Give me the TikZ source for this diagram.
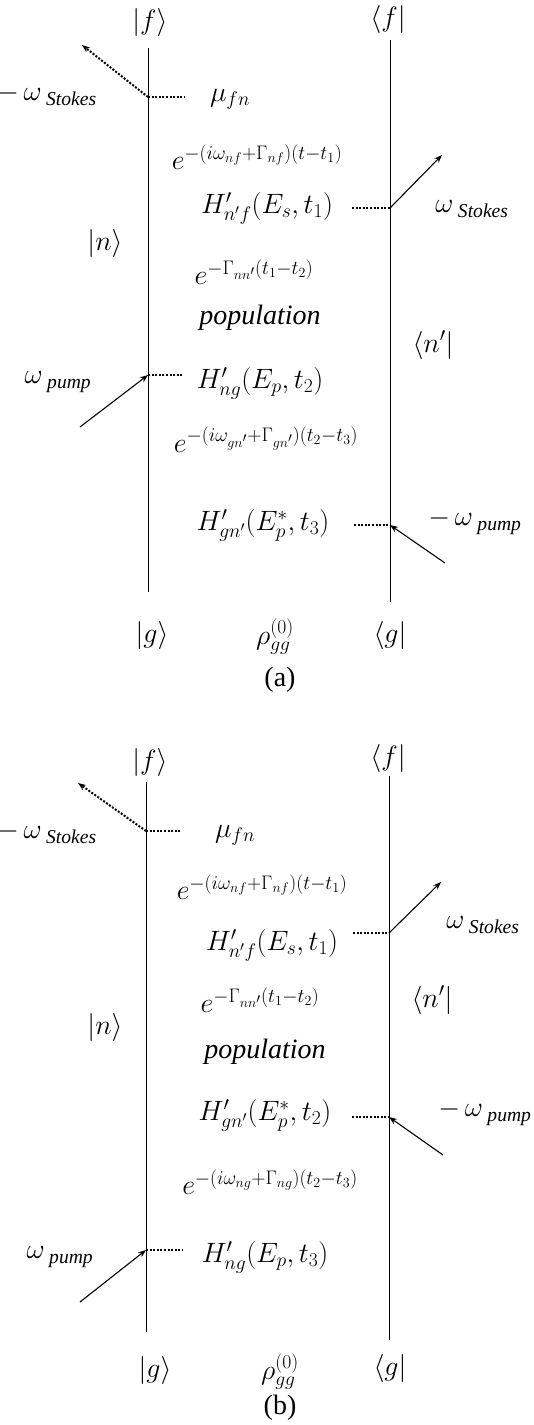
\RequirePackage{fix-cm}
\documentclass[tikz,border=0pt]{standalone}
\usepackage{fontspec}
\setmainfont{Liberation Serif}
\newfontfamily\timesfont{Liberation Serif}
\usetikzlibrary{arrows.meta}

\begin{document}
\begin{tikzpicture}[x=1pt, y=-1pt,
  font=\timesfont\fontsize{28}{32}\selectfont,
  lbl/.style   = {inner sep=0pt},
  world/.style = {line width=0.9pt},
  photon/.style= {-{Stealth[length=8pt, width=6pt]}, line width=1.1pt},
  emit/.style  = {photon, line width=2pt, dash pattern=on 2pt off 1.6pt},
  link/.style  = {line width=2.2pt, dash pattern=on 2pt off 1.6pt}
]
\useasboundingbox (0,0) rectangle (534,1425);

% ---------- (a) ----------
\node[lbl] (keta)  at (150,22)  {$|f\rangle$};
\node[lbl] (braa)  at (388,19)  {$\langle f|$};
\coordinate (ltopa) at (148,48);
\coordinate (lbota) at (148,592);
\coordinate (rtopa) at (390,40);
\coordinate (rbota) at (390,602);

\coordinate (va1) at (148,97);
\coordinate (va2) at (390,208);
\coordinate (va3) at (148,375);
\coordinate (va4) at (390,525);

\coordinate (outa1) at (82,45);
\coordinate (outa2) at (442,155);
\coordinate (ina3)  at (80,427);
\coordinate (ina4)  at (445,563);

\coordinate (da1) at (185,97);
\coordinate (da2) at (352,208);
\coordinate (da3) at (183,375);
\coordinate (da4) at (354,525);

\node[lbl, anchor=west] (stoka1) at (-3,95) {$-\,\omega_{\;\mathit{Stokes}}$};
\node[lbl] (mua)   at (230,99)  {$\mu_{fn}$};
\node[lbl] (expa1) at (257,157) {$e^{-(i\omega_{nf}+\Gamma_{nf})(t-t_1)}$};
\node[lbl] (hama1) at (267,208) {$H^{\prime}_{n'f}(E_s,t_1)$};
\node[lbl] (stoka2) at (472,209) {$\omega_{\;\mathit{Stokes}}$};
\node[lbl] (nketa) at (105,243) {$|n\rangle$};
\node[lbl] (expa2) at (254,272) {$e^{-\Gamma_{nn'}(t_1-t_2)}$};
\node[lbl] (popa)  at (260,318) {\itshape population};
\node[lbl] (nbraa) at (433,345) {$\langle n'|$};
\node[lbl] (pumpa1) at (58,382) {$\omega_{\;\mathit{pump}}$};
\node[lbl] (hama2) at (260,383) {$H^{\prime}_{ng}(E_p,t_2)$};
\node[lbl] (expa3) at (266,440) {$e^{-(i\omega_{gn'}+\Gamma_{gn'})(t_2-t_3)}$};
\node[lbl] (hama3) at (263,525) {$H^{\prime}_{gn'}(E^{*}_p,t_3)$};
\node[lbl] (pumpa2) at (475,522) {$-\,\omega_{\;\mathit{pump}}$};
\node[lbl] (gketa) at (152,635) {$|g\rangle$};
\node[lbl] (rhoa)  at (275,637) {$\rho^{(0)}_{gg}$};
\node[lbl] (gbraa) at (390,635) {$\langle g|$};
\node[lbl] (capa)  at (280,680) {(a)};

\draw[world] (ltopa) -- (lbota);
\draw[world] (rtopa) -- (rbota);

\draw[emit]   (va1) -- (outa1);
\draw[link]   (va1) -- (da1);
\draw[link]   (da2) -- (va2);
\draw[photon] (va2) -- (outa2);
\draw[photon] (ina3) -- (va3);
\draw[link]   (va3) -- (da3);
\draw[link]   (da4) -- (va4);
\draw[photon] (ina4) -- (va4);

% ---------- (b) ----------
\node[lbl] (ketb)  at (150,762) {$|f\rangle$};
\node[lbl] (brab)  at (388,758) {$\langle f|$};
\coordinate (ltopb) at (146,782);
\coordinate (lbotb) at (146,1332);
\coordinate (rtopb) at (389,776);
\coordinate (rbotb) at (389,1340);

\coordinate (vb1) at (146,831);
\coordinate (vb2) at (389,933);
\coordinate (vb3) at (389,1117);
\coordinate (vb4) at (146,1250);

\coordinate (outb1) at (78,783);
\coordinate (outb2) at (441,882);
\coordinate (inb3)  at (443,1155);
\coordinate (inb4)  at (80,1302);

\coordinate (db1) at (180,831);
\coordinate (db2) at (353,933);
\coordinate (db3) at (352,1117);
\coordinate (db4) at (183,1250);

\node[lbl, anchor=west] (stokb1) at (-3,833) {$-\,\omega_{\;\mathit{Stokes}}$};
\node[lbl] (mub)   at (235,835)  {$\mu_{fn}$};
\node[lbl] (expb1) at (262,887)  {$e^{-(i\omega_{nf}+\Gamma_{nf})(t-t_1)}$};
\node[lbl] (hamb1) at (272,945)  {$H^{\prime}_{n'f}(E_s,t_1)$};
\node[lbl] (stokb2) at (483,925) {$\omega_{\;\mathit{Stokes}}$};
\node[lbl] (expb2) at (260,1000) {$e^{-\Gamma_{nn'}(t_1-t_2)}$};
\node[lbl] (nbrab) at (432,1000) {$\langle n'|$};
\node[lbl] (nketb) at (105,1027) {$|n\rangle$};
\node[lbl] (popb)  at (265,1052) {\itshape population};
\node[lbl] (hamb2) at (265,1115) {$H^{\prime}_{gn'}(E^{*}_p,t_2)$};
\node[lbl] (pumpb2) at (485,1113) {$-\,\omega_{\;\mathit{pump}}$};
\node[lbl] (expb3) at (270,1182) {$e^{-(i\omega_{ng}+\Gamma_{ng})(t_2-t_3)}$};
\node[lbl] (pumpb1) at (60,1257) {$\omega_{\;\mathit{pump}}$};
\node[lbl] (hamb3) at (265,1257) {$H^{\prime}_{ng}(E_p,t_3)$};
\node[lbl] (gketb) at (155,1370) {$|g\rangle$};
\node[lbl] (rhob)  at (280,1372) {$\rho^{(0)}_{gg}$};
\node[lbl] (gbrab) at (390,1368) {$\langle g|$};
\node[lbl] (capb)  at (280,1408) {(b)};

\draw[world] (ltopb) -- (lbotb);
\draw[world] (rtopb) -- (rbotb);

\draw[emit]   (vb1) -- (outb1);
\draw[link]   (vb1) -- (db1);
\draw[link]   (db2) -- (vb2);
\draw[photon] (vb2) -- (outb2);
\draw[link]   (db3) -- (vb3);
\draw[photon] (inb3) -- (vb3);
\draw[photon] (inb4) -- (vb4);
\draw[link]   (vb4) -- (db4);

\end{tikzpicture}
\end{document}
